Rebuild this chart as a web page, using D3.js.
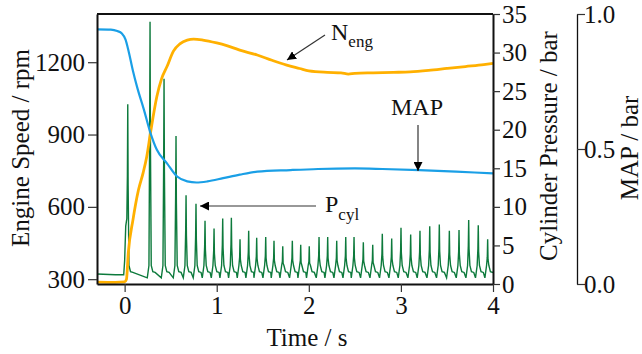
<!DOCTYPE html>
<html><head><meta charset="utf-8">
<script src="https://cdn.jsdelivr.net/npm/d3@7/dist/d3.min.js"></script>
<style>
body{margin:0;background:#fff;}
svg text{font-family:"Liberation Serif",serif !important;fill:#111;}
</style></head>
<body><svg id="c" width="642" height="354" font-family="Liberation Serif, serif"></svg>
<script>
// ---- data ----
const xTicks = [0, 1, 2, 3, 4];
const speedTicks = [300, 600, 900, 1200];
const pressTicks = [0, 5, 10, 15, 20, 25, 30, 35];
const mapTicks = [0, 0.5, 1.0];

const speedT = [-0.3,-0.1,0.0,0.02,0.04,0.09,0.15,0.2,0.24,0.28,0.35,0.4,0.46,0.53,0.6,0.68,0.75,0.85,1.0,1.1,1.25,1.44,1.6,1.76,1.9,2.0,2.2,2.35,2.43,2.5,2.7,2.92,3.1,3.3,3.5,3.7,3.9,4.0];
const speedV = [288,287,289,300,410,545,670,740,808,905,1058,1130,1182,1246,1276,1292,1296,1292,1280,1270,1250,1230,1208,1188,1174,1164,1158,1156,1151,1154,1156,1158,1160,1166,1174,1182,1190,1195];

const mapT = [-0.3,-0.15,-0.08,-0.03,0.01,0.04,0.09,0.135,0.21,0.28,0.35,0.46,0.57,0.68,0.78,0.9,1.07,1.25,1.44,1.8,2.1,2.5,2.8,3.2,3.6,4.0];
const mapV = [0.943,0.942,0.937,0.928,0.905,0.867,0.79,0.73,0.645,0.56,0.497,0.447,0.398,0.38,0.376,0.38,0.392,0.405,0.416,0.422,0.426,0.428,0.426,0.422,0.416,0.41];

const pcylLeadT = [-0.3,-0.1,-0.01,0.0,0.012,0.024];
const pcylLeadV = [1.3,1.2,1.2,3.0,7.5,8.5];
const pcylPeakT = [0.034,0.276,0.428,0.558,0.667,0.775,0.873,0.971,1.065,1.159,1.253,1.347,1.434,1.532,1.622,1.717,1.821,1.912,2.005,2.111,2.205,2.303,2.401,2.491,2.592,2.694,2.798,2.900,3.001,3.106,3.207,3.313,3.417,3.526,3.631,3.736,3.840,3.942];
const pcylPeakV = [23.3,34.0,26.6,19.2,11.5,10.4,8.2,7.2,8.5,8.6,5.8,6.9,6.0,6.1,5.6,4.9,5.6,5.1,4.9,6.1,6.1,5.6,6.1,6.1,5.4,5.1,6.5,5.9,7.3,6.4,6.9,7.5,7.7,6.9,7.0,8.3,7.6,5.8];
const pcylLow = 0.8, pcylShoulder = 2.4, pcylPlateau = 1.6;

// ---- layout ----
const FONT = "Liberation Serif, serif";
const svg = d3.select("#c");
const L = 97, R = 493, T = 14, B = 284;
const x = d3.scaleLinear().domain([-0.3, 4]).range([L, R]);
const yS = d3.scaleLinear().domain([280, 1400]).range([B, T]);
const yP = d3.scaleLinear().domain([0, 35]).range([B, T]);
const yM = d3.scaleLinear().domain([0, 1]).range([B, T]);

// build pressure trace from spike data
const pcyl = pcylLeadT.map((t, i) => [t, pcylLeadV[i]]);
pcylPeakT.forEach((t, i) => {
  if (i > 0) {
    pcyl.push([t - 0.03, pcylLow]);
    pcyl.push([t - 0.012, pcylShoulder]);
  }
  pcyl.push([t - 0.004, pcylPeakV[i] * 0.6]);
  pcyl.push([t, pcylPeakV[i]]);
  pcyl.push([t + 0.004, pcylPeakV[i] * 0.55]);
  pcyl.push([t + 0.013, pcylShoulder]);
  pcyl.push([t + 0.03, pcylPlateau]);
  pcyl.push([t + 0.055, pcylPlateau - 0.1]);
});
pcyl.push([4.0, pcylPlateau]);

svg.append("clipPath").attr("id","pc").append("rect")
  .attr("x", L).attr("y", T).attr("width", R - L).attr("height", B - T);
const g = svg.append("g").attr("clip-path", "url(#pc)");

g.append("path").datum(pcyl)
  .attr("d", d3.line().x(d => x(d[0])).y(d => yP(d[1])))
  .attr("fill", "none").attr("stroke", "#0d7a3c").attr("stroke-width", 1.4);
g.append("path").datum(speedT.map((t, i) => [t, speedV[i]]))
  .attr("d", d3.line().curve(d3.curveMonotoneX).x(d => x(d[0])).y(d => yS(d[1])))
  .attr("fill", "none").attr("stroke", "#ffb000").attr("stroke-width", 2.8);
g.append("path").datum(mapT.map((t, i) => [t, mapV[i]]))
  .attr("d", d3.line().curve(d3.curveMonotoneX).x(d => x(d[0])).y(d => yM(d[1])))
  .attr("fill", "none").attr("stroke", "#1a9fe6").attr("stroke-width", 2.2);

// axes
function styleAxis(sel) {
  sel.attr("font-family", FONT).attr("font-size", 25);
  sel.selectAll("path.domain").attr("stroke", "#111").attr("stroke-width", 2);
  sel.selectAll(".tick line").attr("stroke", "#333").attr("stroke-width", 1.2);
  sel.selectAll(".tick text").attr("font-family", FONT).attr("font-size", 25).attr("fill", "#111");
}
const ax = svg.append("g").attr("transform", `translate(0,${B})`)
  .call(d3.axisBottom(x).tickValues(xTicks).tickSize(8).tickSizeOuter(0).tickFormat(d3.format("d")).tickPadding(4));
styleAxis(ax);
const al = svg.append("g").attr("transform", `translate(${L},0)`)
  .call(d3.axisLeft(yS).tickValues(speedTicks).tickSize(9).tickSizeOuter(0).tickFormat(d3.format("d")).tickPadding(3));
styleAxis(al);
const ar = svg.append("g").attr("transform", `translate(${R},0)`)
  .call(d3.axisRight(yP).tickValues(pressTicks).tickSize(7).tickSizeOuter(0).tickFormat(d3.format("d")).tickPadding(2));
styleAxis(ar);
const am = svg.append("g").attr("transform", `translate(577,0)`)
  .call(d3.axisRight(yM).tickValues(mapTicks).tickSize(8).tickSizeOuter(0).tickFormat(d3.format(".1f")));
styleAxis(am);
am.selectAll(".tick line").attr("x2", 8);
am.selectAll(".tick text").attr("x", 7);
am.selectAll("path.domain").attr("stroke-width", 1.3);
svg.append("line").attr("x1", L).attr("x2", R).attr("y1", T).attr("y2", T)
  .attr("stroke", "#111").attr("stroke-width", 2);

// titles
function txt(x0, y0, s, rot) {
  const t = svg.append("text").attr("font-family", FONT).attr("font-size", 25);
  if (rot) t.attr("transform", `translate(${x0},${y0}) rotate(-90)`).attr("text-anchor", "middle").attr("dominant-baseline", "central");
  else t.attr("x", x0).attr("y", y0).attr("text-anchor", "middle");
  return t.text(s);
}
txt(307, 346, "Time / s", false);
txt(20, 148, "Engine Speed / rpm", true);
txt(548, 146, "Cylinder Pressure / bar", true);
txt(629, 148, "MAP / bar", true);

// annotations
svg.append("defs").append("marker").attr("id", "ah").attr("viewBox", "0 0 10 10")
  .attr("refX", 10).attr("refY", 5).attr("markerWidth", 9).attr("markerHeight", 9)
  .attr("markerUnits", "userSpaceOnUse").attr("orient", "auto")
  .append("path").attr("d", "M0,0L10,5L0,10Z").attr("fill", "#000");
function arrow(x1, y1, x2, y2) {
  svg.append("line").attr("x1", x1).attr("y1", y1).attr("x2", x2).attr("y2", y2)
    .attr("stroke", "#333").attr("stroke-width", 1.2).attr("marker-end", "url(#ah)");
}
arrow(325, 35, 287, 60);
arrow(418, 125, 418, 171);
arrow(316, 206, 200, 206);
const n = svg.append("text").attr("x", 331).attr("y", 40).attr("font-family", FONT).attr("font-size", 24);
n.append("tspan").text("N");
n.append("tspan").attr("dy", 7).attr("font-size", 17).text("eng");
svg.append("text").attr("x", 391).attr("y", 115).attr("font-family", FONT).attr("font-size", 24).text("MAP");
const p = svg.append("text").attr("x", 325).attr("y", 212).attr("font-family", FONT).attr("font-size", 24);
p.append("tspan").text("P");
p.append("tspan").attr("dy", 8).attr("font-size", 17).text("cyl");
</script></body></html>
